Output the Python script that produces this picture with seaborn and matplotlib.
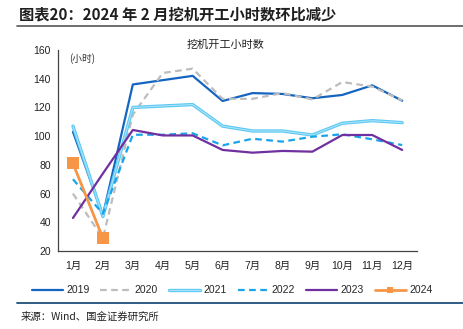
import matplotlib
matplotlib.use("Agg")
import matplotlib.pyplot as plt
import matplotlib.patheffects as pe
from matplotlib.lines import Line2D
import seaborn as sns
import pandas as pd
import numpy as np

months = ["1月", "2月", "3月", "4月", "5月", "6月", "7月", "8月", "9月", "10月", "11月", "12月"]
y2019 = [103, 45, 136, 139, 142, 124.5, 130, 129.4, 126.4, 128.7, 135.4, 124.7]
y2020 = [60, 29, 115, 144, 147, 126, 126, 130, 125.6, 137.7, 134.5, 125]
y2021 = [107, 44, 120, 121, 122, 107, 103.6, 103.6, 100.8, 109, 110.8, 109.4]
y2022 = [70, 46, 101, 101, 102, 93.6, 98.2, 96.2, 99.6, 101.3, 97.8, 93.8]
y2023 = [43, 74, 104.3, 100.5, 100.5, 90.4, 88.5, 89.7, 89.2, 100.8, 100.8, 90.4]
y2024 = [81, 29]
years = ["2019", "2020", "2021", "2022", "2023", "2024"]

sns.set_theme(style="white")
plt.rcParams['font.family'] = ['Liberation Sans', 'Noto Sans CJK SC', 'DejaVu Sans']
CJK = ['Noto Sans CJK SC', 'DejaVu Sans']

fig = plt.figure(figsize=(4.64, 3.29), dpi=100)
ax = fig.add_axes([0.125, 0.237, 0.774, 0.611])

x = np.arange(len(months))
series = {"2019": y2019, "2020": y2020, "2021": y2021, "2022": y2022, "2023": y2023, "2024": y2024}
styles = {
    "2019": dict(color="#1565C0", lw=1.6, ls="-"),
    "2020": dict(color="#BDBDBD", lw=1.6, ls=(0, (3, 2))),
    "2021": dict(color="#5DC8F2", lw=2.2, ls="-"),
    "2022": dict(color="#18A4EA", lw=1.6, ls=(0, (3, 2))),
    "2023": dict(color="#7030A0", lw=1.6, ls="-"),
    "2024": dict(color="#F79646", lw=2.0, ls="-"),
}
for yr in years:
    vals = series[yr]
    df = pd.DataFrame({"m": x[:len(vals)], "v": vals})
    st = styles[yr]
    kw = {}
    if yr == "2024":
        kw = dict(marker="s", markersize=8, markeredgewidth=0)
    sns.lineplot(data=df, x="m", y="v", ax=ax, color=st["color"], linewidth=st["lw"],
                 linestyle=st["ls"], sort=False, **kw)
    if yr == "2021":
        ax.lines[-1].set_path_effects([pe.Stroke(linewidth=2.4, foreground="#5DC8F2"),
                                       pe.Normal()])
        ax.lines[-1].set_color("#A8E4FA")
        ax.lines[-1].set_linewidth(0.8)

ax.set_xlim(-0.5, 11.5)
ax.set_ylim(20, 160)
ax.set_yticks(range(20, 161, 20))
ax.set_xticks(np.arange(-0.5, 12, 1))
ax.set_xticklabels([])
ax.set_xticks(x, minor=True)
ax.set_xticklabels(months, minor=True)
ax.tick_params(axis="x", which="minor", length=0, pad=7, labelsize=7.5, colors="#222222")
ax.tick_params(axis="x", which="major", length=3, direction="out", color="#444444", width=0.8)
ax.tick_params(axis="y", length=3, direction="out", labelsize=7.5, colors="#222222", width=0.8, pad=2)
ax.tick_params(axis="y", color="#444444")
ax.set_xlabel("")
ax.set_ylabel("")
for s in ["top", "right"]:
    ax.spines[s].set_visible(False)
for s in ["left", "bottom"]:
    ax.spines[s].set_color("#444444")
    ax.spines[s].set_linewidth(0.9)

ax.text(0.03, 0.985, "(小时)", transform=ax.transAxes, fontsize=7, color="#333333", va="top",
        family=CJK)
fig.text(0.485, 0.862, "挖机开工小时数", fontsize=8, color="#222222", ha="center", va="center",
         family=CJK)

fig.text(0.04, 0.955, "图表20：2024 年 2 月挖机开工小时数环比减少", fontsize=11, fontweight="bold",
         color="#1F1F1F", va="center", ha="left", family=CJK)
fig.add_artist(Line2D([0.037, 1.0], [0.922, 0.922], color="#555555", lw=1.2))

handles = []
for yr in years:
    st = styles[yr]
    if yr == "2021":
        h = Line2D([], [], color="#A8E4FA", lw=0.8,
                   path_effects=[pe.Stroke(linewidth=2.4, foreground="#5DC8F2"), pe.Normal()])
    elif yr == "2024":
        h = Line2D([], [], color=st["color"], lw=st["lw"], marker="s", markersize=4, markeredgewidth=0)
    else:
        h = Line2D([], [], color=st["color"], lw=st["lw"], linestyle=st["ls"])
    handles.append(h)
fig.legend(handles, years, loc="center", bbox_to_anchor=(0.5, 0.118), ncol=6, frameon=False,
           fontsize=7.5, handlelength=3.0, columnspacing=1.05, handletextpad=0.3)

fig.add_artist(Line2D([0.037, 1.0], [0.079, 0.079], color="#1F4E79", lw=1.3))
fig.text(0.045, 0.038, "来源：Wind、国金证券研究所", fontsize=7.5, color="#222222", va="center",
         family=CJK)

fig.savefig("out.png", dpi=100, facecolor="white")
